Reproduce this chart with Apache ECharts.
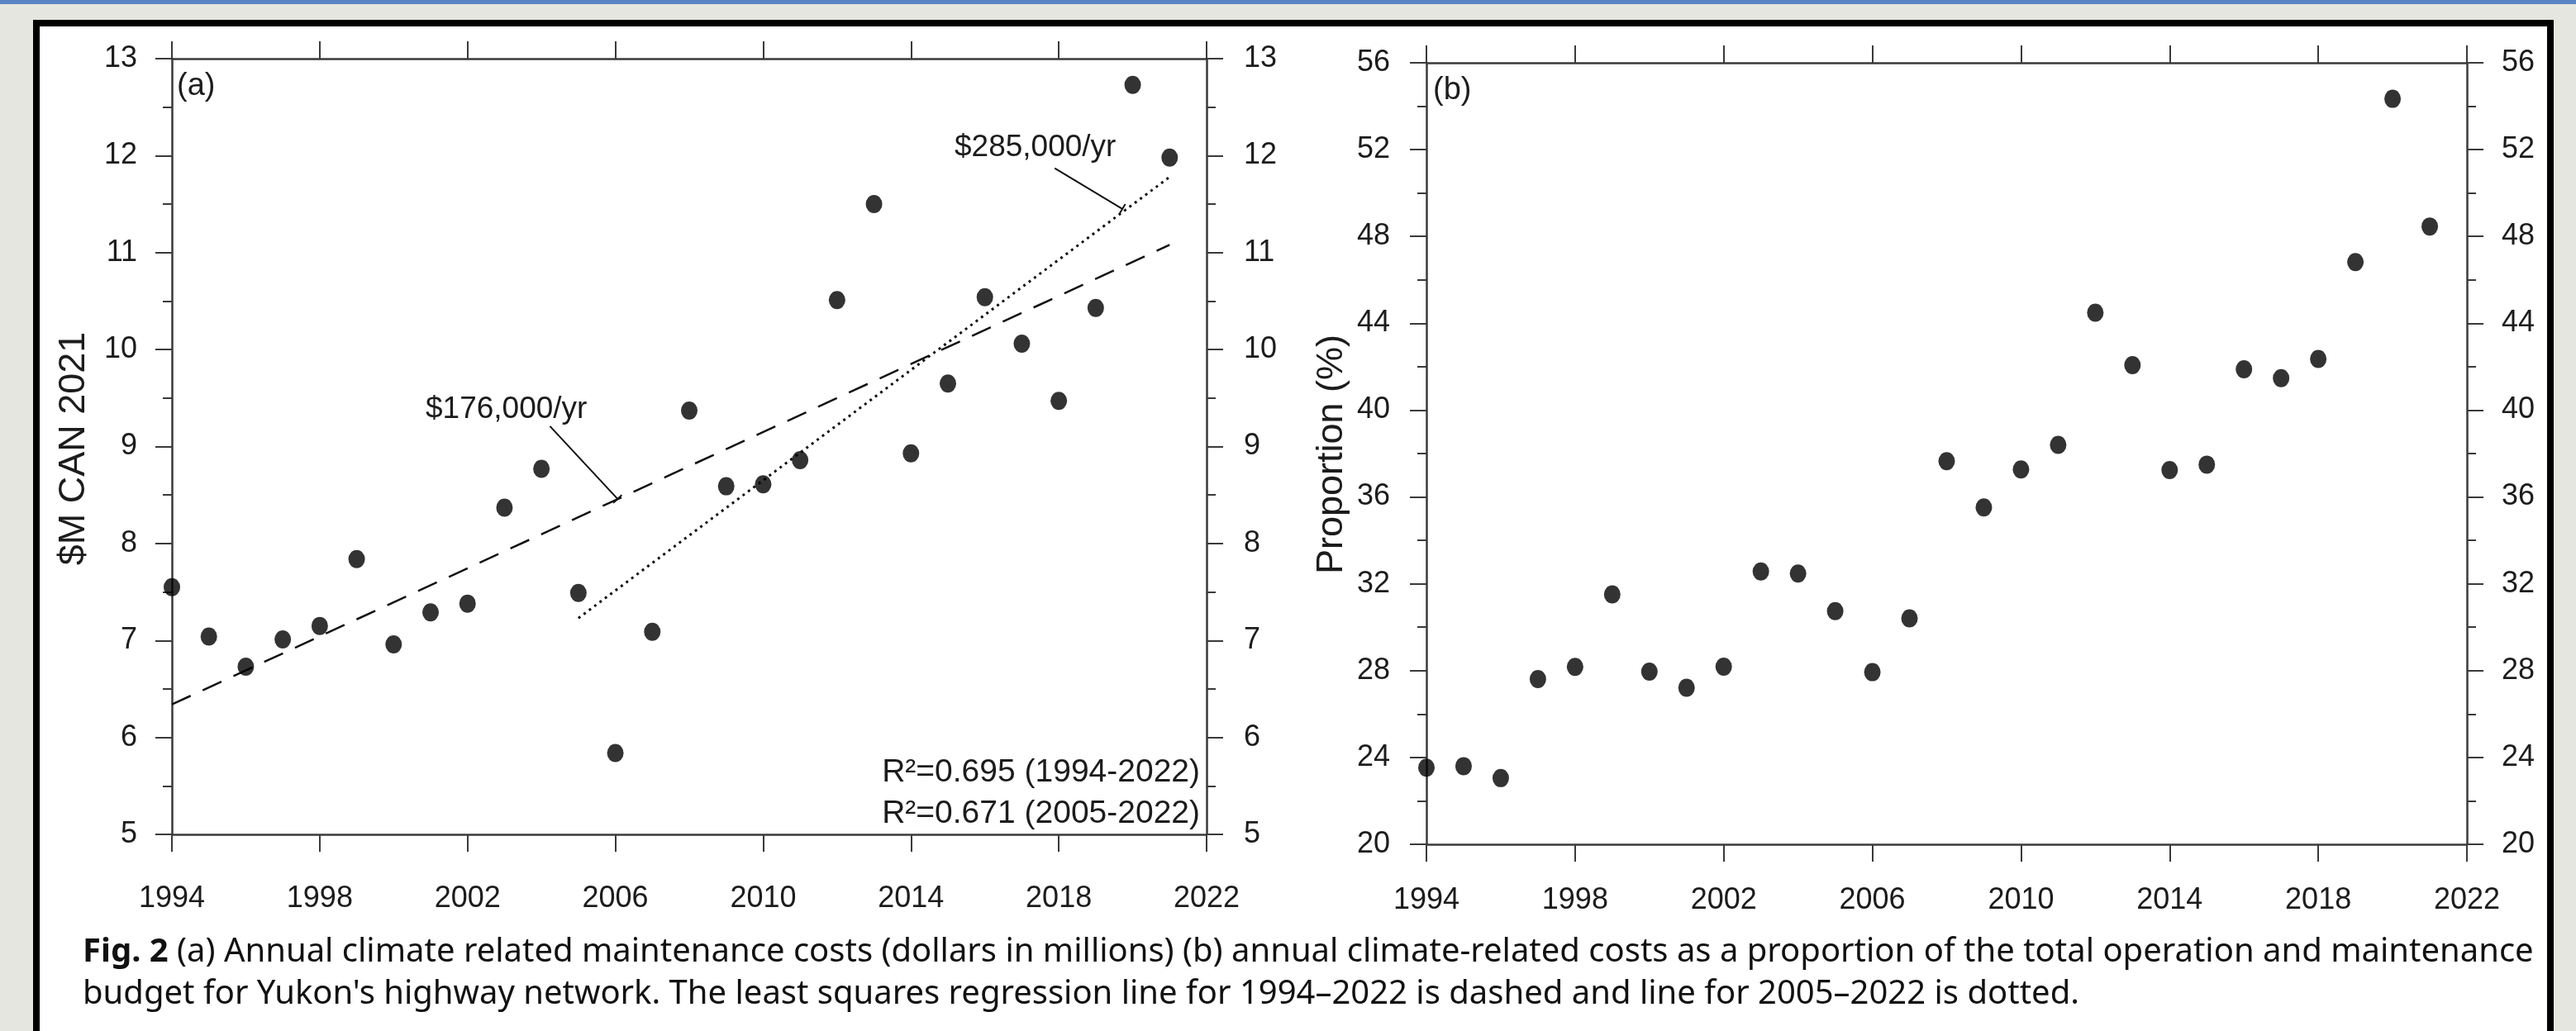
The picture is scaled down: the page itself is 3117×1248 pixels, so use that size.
<!DOCTYPE html>
<html>
<head>
<meta charset="UTF-8">
<title>Yukon highway climate maintenance costs</title>
<script src="https://cdn.jsdelivr.net/npm/echarts@6/dist/echarts.min.js"></script>
<style>
  html, body { margin: 0; padding: 0; }
  body { width: 3117px; height: 1248px; background: #e6e6e0; overflow: hidden; position: relative; }
  #band { position: absolute; left: 0; top: 0; width: 3117px; height: 5px; background: #5a85c3; }
  #frame { position: absolute; left: 40px; top: 24px; width: 3050px; height: 1260px; box-sizing: border-box;
           border: 8px solid #000; background: #fff; }
  #main { position: absolute; left: 0; top: 0; width: 3117px; height: 1248px; }
</style>
</head>
<body>
<div id="band"></div>
<div id="frame"></div>
<div id="main"></div>
<script>
// data
var years = [1994, 1995, 1996, 1997, 1998, 1999, 2000, 2001, 2002, 2003, 2004, 2005, 2006, 2007,
             2008, 2009, 2010, 2011, 2012, 2013, 2014, 2015, 2016, 2017, 2018, 2019, 2020, 2021];
// (a) climate related maintenance cost, $M CAN 2021
var costs = [7.55, 7.04, 6.73, 7.01, 7.15, 7.84, 6.96, 7.29, 7.38, 8.37, 8.77, 7.49, 5.84, 7.09,
             9.37, 8.59, 8.61, 8.86, 10.51, 11.50, 8.93, 9.65, 10.54, 10.06, 9.47, 10.43, 12.73, 11.98];
// (b) proportion of total O&M budget, %
var proportion = [23.53, 23.60, 23.05, 27.61, 28.17, 31.51, 27.95, 27.21, 28.18, 32.57, 32.47, 30.74, 27.93, 30.41,
                  37.65, 35.52, 37.27, 38.40, 44.49, 42.07, 37.24, 37.49, 41.88, 41.47, 42.36, 46.82, 54.34, 48.46];
// regression lines (end points)
var trendAll = [[1994, 6.34], [2021, 11.08]];      // 1994-2022, dashed
var trendRecent = [[2005, 7.23], [2021, 11.78]];   // 2005-2022, dotted
// leader lines for the slope labels [x0, y0, x1, y1]
var leaders = [[2004.23, 9.21, 2006.06, 8.46], [2017.89, 11.87, 2019.72, 11.45]];
var yearTicks = [1994, 1998, 2002, 2006, 2010, 2014, 2018, 2022];

var axisColor = '#3a3a3a';
var textColor = '#1c1c1c';
var tickFont = 'Liberation Sans, Arial, sans-serif';

function pairs(ys) {
    return years.map(function (y, i) { return [y, ys[i]]; });
}

function xAxisPair(grid, margin) {
    var base = {
        type: 'value', gridIndex: grid, min: 1994, max: 2022,
        splitLine: { show: false },
        axisLine: { onZero: false, lineStyle: { color: axisColor, width: 2.5 } },
        axisTick: { inside: false, length: 21, customValues: yearTicks, lineStyle: { color: axisColor, width: 2 } }
    };
    var bottom = echarts.util.merge({
        position: 'bottom',
        axisLabel: {
            customValues: yearTicks, margin: margin, fontSize: 36, color: textColor, fontFamily: tickFont,
            formatter: function (v) { return String(v); }
        }
    }, base, true);
    var top = echarts.util.merge({ position: 'top', axisLabel: { show: false } }, base, true);
    return [bottom, top];
}

function yAxisPair(grid, min, max, step, lm, rm) {
    function one(pos, margin) {
        return {
            type: 'value', gridIndex: grid, position: pos, min: min, max: max, interval: step,
            splitLine: { show: false },
            axisLine: { show: true, onZero: false, lineStyle: { color: axisColor, width: 2.5 } },
            axisTick: { show: true, inside: false, length: 20, lineStyle: { color: axisColor, width: 2 } },
            minorTick: { show: true, splitNumber: 2, length: 11, lineStyle: { color: axisColor, width: 2 } },
            axisLabel: { margin: margin, fontSize: 36, color: textColor, fontFamily: tickFont }
        };
    }
    return [one('left', lm), one('right', rm)];
}

var myChart = echarts.init(document.getElementById('main'), null, { renderer: 'canvas' });

var xa = xAxisPair(0, 60), xb = xAxisPair(1, 50);
var ya = yAxisPair(0, 5, 13, 1, 42, 45), yb = yAxisPair(1, 20, 56, 4, 44, 42);

var option = {
    backgroundColor: 'transparent',
    animation: false,
    grid: [
        { left: 208, top: 71, width: 1252, height: 939 },
        { left: 1726, top: 76, width: 1259, height: 946 }
    ],
    xAxis: [xa[0], xa[1], xb[0], xb[1]],
    yAxis: [ya[0], ya[1], yb[0], yb[1]],
    series: [
        {   // dashed trend 1994-2022
            type: 'line', xAxisIndex: 0, yAxisIndex: 0, data: trendAll, showSymbol: false, z: 2,
            lineStyle: { color: '#111', width: 2.5, type: [25, 16] }
        },
        {   // dotted trend 2005-2022
            type: 'line', xAxisIndex: 0, yAxisIndex: 0, data: trendRecent, showSymbol: false, z: 2,
            lineStyle: { color: '#111', width: 3, type: [3, 5] }
        },
        {   // leader lines with small end bar
            type: 'custom', xAxisIndex: 0, yAxisIndex: 0, data: leaders, z: 3,
            renderItem: function (params, api) {
                var p0 = api.coord([api.value(0), api.value(1)]);
                var p1 = api.coord([api.value(2), api.value(3)]);
                var dx = p1[0] - p0[0], dy = p1[1] - p0[1];
                var len = Math.sqrt(dx * dx + dy * dy);
                var nx = -dy / len * 7, ny = dx / len * 7;
                return {
                    type: 'group',
                    children: [
                        { type: 'line', shape: { x1: p0[0], y1: p0[1], x2: p1[0], y2: p1[1] },
                          style: { stroke: '#111', lineWidth: 2 } },
                        { type: 'line', shape: { x1: p1[0] - nx, y1: p1[1] - ny, x2: p1[0] + nx, y2: p1[1] + ny },
                          style: { stroke: '#111', lineWidth: 2 } }
                    ]
                };
            }
        },
        {
            type: 'scatter', xAxisIndex: 0, yAxisIndex: 0, data: pairs(costs), z: 5,
            symbol: 'circle', symbolSize: [20, 22], itemStyle: { color: '#000' }
        },
        {
            type: 'scatter', xAxisIndex: 2, yAxisIndex: 2, data: pairs(proportion), z: 5,
            symbol: 'circle', symbolSize: [20, 22], itemStyle: { color: '#000' }
        }
    ],
    graphic: [
        { type: 'text', left: 214, top: 86, style: { text: '(a)', font: '38px Liberation Sans', fill: textColor } },
        { type: 'text', left: 1734, top: 91, style: { text: '(b)', font: '38px Liberation Sans', fill: textColor } },
        { type: 'text', x: 90, y: 543, rotation: Math.PI / 2,
          style: { text: '$M CAN 2021', font: '45px Liberation Sans', fill: textColor, align: 'center', verticalAlign: 'middle' } },
        { type: 'text', x: 1612, y: 550, rotation: Math.PI / 2,
          style: { text: 'Proportion (%)', font: '45px Liberation Sans', fill: textColor, align: 'center', verticalAlign: 'middle' } },
        { type: 'text', x: 515, y: 496,
          style: { text: '$176,000/yr', font: '37px Liberation Sans', fill: textColor, align: 'left', verticalAlign: 'middle' } },
        { type: 'text', x: 1155, y: 179,
          style: { text: '$285,000/yr', font: '37px Liberation Sans', fill: textColor, align: 'left', verticalAlign: 'middle' } },
        { type: 'text', x: 1452, y: 935,
          style: { text: 'R\u00b2=0.695 (1994-2022)', font: '39px Liberation Sans', fill: textColor, align: 'right', verticalAlign: 'middle' } },
        { type: 'text', x: 1452, y: 985,
          style: { text: 'R\u00b2=0.671 (2005-2022)', font: '39px Liberation Sans', fill: textColor, align: 'right', verticalAlign: 'middle' } },
        { type: 'text', x: 100, y: 1153,
          style: {
              text: '{b|Fig. 2} (a) Annual climate related maintenance costs (dollars in millions) (b) annual climate-related costs as a proportion of the total operation and maintenance',
              fontFamily: 'Noto Sans', fontSize: 40, fill: '#111', align: 'left', verticalAlign: 'middle',
              rich: { b: { fontFamily: 'Noto Sans', fontSize: 40, fontWeight: 'bold', fill: '#111' } }
          } },
        { type: 'text', x: 100, y: 1204,
          style: {
              text: 'budget for Yukon\'s highway network. The least squares regression line for 1994\u20132022 is dashed and line for 2005\u20132022 is dotted.',
              fontFamily: 'Noto Sans', fontSize: 40, fill: '#111', align: 'left', verticalAlign: 'middle'
          } }
    ]
};
myChart.setOption(option);
</script>
</body>
</html>
